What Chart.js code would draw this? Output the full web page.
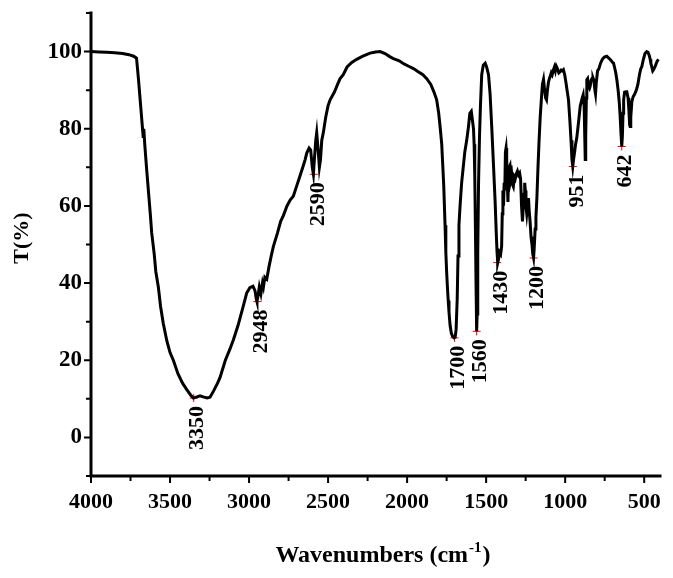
<!DOCTYPE html>
<html>
<head>
<meta charset="utf-8">
<script src="https://cdn.jsdelivr.net/npm/chart.js@4"></script>
<style>
  html, body { margin: 0; padding: 0; background: #fff; }
  canvas { display: block; }
</style>
</head>
<body>
<canvas id="ftir" width="673" height="578"></canvas>
<script>
// spectrum (wavenumber in cm-1, transmittance in %)
var wavenumber = [
  4000, 3950, 3900, 3850, 3800, 3760, 3730, 3712, 3700, 3690, 3680, 3672, 3670, 3666, 3660, 3647,
  3635, 3625, 3616, 3600, 3590, 3574, 3560, 3543, 3520, 3500, 3479, 3450, 3420, 3394, 3370, 3352,
  3330, 3310, 3290, 3265, 3247, 3225, 3200, 3184, 3150, 3120, 3099, 3070, 3040, 3015, 2995, 2975,
  2962, 2955, 2950, 2944, 2935, 2925, 2915, 2909, 2900, 2888, 2875, 2860, 2846, 2820, 2800, 2783,
  2760, 2740, 2720, 2700, 2680, 2660, 2645, 2635, 2620, 2610, 2600, 2593, 2585, 2578, 2572, 2562,
  2555, 2548, 2540, 2530, 2515, 2500, 2487, 2460, 2440, 2424, 2404, 2380, 2350, 2319, 2280, 2234,
  2200, 2171, 2140, 2110, 2087, 2050, 2020, 1990, 1960, 1930, 1900, 1876, 1850, 1830, 1813, 1800,
  1790, 1781, 1775, 1768, 1760, 1755, 1750, 1745, 1740, 1735, 1728, 1720, 1712, 1703, 1696, 1690,
  1683, 1678, 1672, 1665, 1655, 1645, 1635, 1623, 1612, 1603, 1594, 1586, 1580, 1576, 1572, 1568,
  1564, 1560, 1557, 1553, 1548, 1542, 1536, 1528, 1518, 1506, 1497, 1485, 1475, 1464, 1454, 1443,
  1436, 1431, 1428, 1425, 1420, 1415, 1408, 1402, 1398, 1394, 1390, 1386, 1382, 1378,
  1374, 1370, 1366, 1362, 1358, 1354, 1349, 1343, 1338, 1333, 1328, 1322, 1316, 1310, 1302, 1295,
  1288, 1282, 1276, 1270, 1266, 1260, 1256, 1252, 1248, 1243, 1238, 1232, 1228, 1222, 1216, 1210,
  1205, 1200, 1196, 1190, 1185, 1179, 1172, 1165, 1158, 1150, 1144, 1137, 1130, 1124, 1118, 1112,
  1106, 1100, 1095, 1088, 1082, 1074, 1068, 1062, 1056, 1048, 1040, 1032, 1025, 1018, 1011, 1003,
  995, 988, 979, 970, 963, 957, 952, 947, 940, 934, 927, 920, 912, 905, 898, 892,
  886, 880, 876, 873, 870, 866, 863, 858, 852, 846, 842, 836, 830, 824, 818, 812,
  808, 803, 795, 787, 776, 765, 752, 737, 724, 712, 700, 694, 688, 680, 673, 665,
  658, 652, 647, 642, 638, 634, 630, 624, 616, 610, 602, 597, 592, 589, 585, 578,
  570, 560, 550, 540, 530, 522, 515, 505, 495, 484, 476, 468, 462, 458, 452, 446,
  441, 432, 425, 418, 410
];
var transmittance = [
  100, 99.9, 99.8, 99.7, 99.5, 99.2, 98.8, 98.3, 93, 88, 83, 79, 78, 80, 76, 69,
  63, 58, 53, 47.5, 43, 39, 34, 29.6, 25, 22, 20, 16.5, 14, 12.4, 11, 10.2,
  10.5, 10.8, 10.5, 10.2, 10.4, 12, 14, 15.5, 20, 23, 25.3, 29, 33.5, 37.4, 38.8, 39.2,
  38, 36, 35.2, 36.5, 39, 37.2, 40, 39, 41.5, 41, 44, 47, 49.5, 53, 56, 57.5,
  60, 61.5, 62.5, 65, 67.5, 70, 72, 73.7, 75, 74.5, 70, 68.2, 73, 77, 79, 74,
  70, 72, 77, 79, 83, 86, 87.5, 89.5, 91.5, 93, 94, 96, 97.2, 98, 98.8, 99.6,
  99.9, 100, 99.5, 98.7, 98.2, 97.6, 96.8, 96.2, 95.6, 94.8, 94, 93, 91.5, 89.5, 87.5, 84,
  80, 76, 71, 65, 55, 48, 43, 39, 35.5, 32.5, 29, 27, 26.2, 25.8, 26, 28,
  36, 47, 55, 60, 66, 70, 74, 77, 80.5, 84, 84.5, 82, 80, 76, 68, 55,
  40, 27.5, 32, 48, 66, 78, 86, 94, 96.5, 97, 96, 94, 89, 80, 71, 61,
  53, 48, 46, 45.3, 46.5, 48, 47.5, 49.5, 58, 64, 60, 66, 64, 74,
  75, 72, 66, 61, 69, 70, 70.5, 67, 68, 65.5, 65, 67.5, 67, 68.2, 69, 68,
  68.5, 67, 60, 56, 59, 63, 66, 64, 60, 58, 60, 62, 59, 56, 52, 50,
  47.5, 46.5, 49, 54, 57, 62, 70, 77, 83, 88, 91.5, 92.8, 90, 88, 87.5, 90,
  92, 93, 93.5, 94.5, 94, 95.3, 96, 95, 96.2, 95.5, 94.5, 94.8, 95.2, 95, 95.3, 94,
  92, 90, 87.5, 82, 77, 72, 70.2, 72, 74, 76, 77.5, 80, 83, 85.8, 87, 88,
  88.8, 86, 78, 72, 78, 88, 92.7, 93, 91, 90.5, 91, 92.5, 93, 93.2, 92.5, 90,
  89, 92, 95, 95.5, 97, 98, 98.6, 98.8, 98.3, 97.8, 97.2, 97, 96, 94.5, 92.7, 90,
  87, 83.2, 79, 75.4, 78, 84, 87.5, 89.5, 89.6, 89.6, 88, 85, 81, 80.6, 83, 87,
  88.3, 89, 90, 91.5, 94, 95.5, 96.1, 98, 99.5, 100, 99.8, 99, 98, 97, 96, 95,
  95.3, 96, 96.8, 97.5, 98
];

// marked peaks
var peakWavenumber = [3350, 2948, 2590, 1700, 1560, 1430, 1200, 951, 642];
var peakTransmittance = [10.2, 35.2, 68.2, 25.8, 27.5, 45.3, 46.5, 70.2, 75.4];

// axis ticks
var xTicks = [4000, 3500, 3000, 2500, 2000, 1500, 1000, 500];
var xMinorTicks = [3750, 3250, 2750, 2250, 1750, 1250, 750];
var yTicks = [0, 20, 40, 60, 80, 100];
var yMinorTicks = [-10, 10, 30, 50, 70, 90, 110];

var serif = '"Liberation Serif", "Times New Roman", serif';

var spectrum = wavenumber.map(function (w, i) { return { x: w, y: transmittance[i] }; });
var peaks = peakWavenumber.map(function (w, i) { return { x: w, y: peakTransmittance[i] }; });

// axis lines + tick marks, peak labels, axis titles
var decorations = {
    id: 'decorations',
    afterDraw: function (chart) {
        var ctx = chart.ctx;
        var xs = chart.scales.x, ys = chart.scales.y;
        var area = chart.chartArea;
        ctx.save();
        ctx.strokeStyle = '#000';
        ctx.lineCap = 'square';

        // axis lines
        ctx.lineWidth = 3;
        ctx.beginPath();
        ctx.moveTo(area.left, area.top);
        ctx.lineTo(area.left, area.bottom);
        ctx.lineTo(area.right, area.bottom);
        ctx.stroke();

        // ticks
        ctx.lineWidth = 2;
        ctx.lineCap = 'butt';
        ctx.beginPath();
        xTicks.forEach(function (v) {
            var px = xs.getPixelForValue(v);
            ctx.moveTo(px, area.bottom); ctx.lineTo(px, area.bottom + 7);
        });
        xMinorTicks.forEach(function (v) {
            var px = xs.getPixelForValue(v);
            ctx.moveTo(px, area.bottom); ctx.lineTo(px, area.bottom + 5);
        });
        yTicks.forEach(function (v) {
            var py = ys.getPixelForValue(v);
            ctx.moveTo(area.left, py); ctx.lineTo(area.left - 7, py);
        });
        yMinorTicks.forEach(function (v) {
            var py = ys.getPixelForValue(v);
            ctx.moveTo(area.left, py); ctx.lineTo(area.left - 5, py);
        });
        ctx.stroke();

        // peak labels, rotated
        ctx.fillStyle = '#000';
        ctx.font = 'bold 22px ' + serif;
        ctx.textAlign = 'right';
        ctx.textBaseline = 'middle';
        peakWavenumber.forEach(function (w, i) {
            var px = xs.getPixelForValue(w);
            var py = ys.getPixelForValue(peakTransmittance[i]);
            ctx.save();
            ctx.translate(px + 4, py + 8);
            ctx.rotate(-Math.PI / 2);
            ctx.fillText(String(w), 0, 0);
            ctx.restore();
        });

        // y title
        ctx.save();
        ctx.translate(22, 238);
        ctx.rotate(-Math.PI / 2);
        ctx.textAlign = 'center';
        ctx.font = 'bold 22px ' + serif;
        ctx.fillText('T(%)', 0, 0);
        ctx.restore();

        // x title with superscript
        var big = 'bold 24px ' + serif, small = 'bold 15px ' + serif;
        var t1 = 'Wavenumbers (cm', t2 = '-1', t3 = ')';
        ctx.textAlign = 'left';
        ctx.textBaseline = 'alphabetic';
        ctx.font = big;
        var w1 = ctx.measureText(t1).width, w3 = ctx.measureText(t3).width;
        ctx.font = small;
        var w2 = ctx.measureText(t2).width;
        var x0 = 382 - (w1 + w2 + w3) / 2, base = 562;
        ctx.font = big;
        ctx.fillText(t1, x0, base);
        ctx.font = small;
        ctx.fillText(t2, x0 + w1 + 1, base - 10);
        ctx.font = big;
        ctx.fillText(t3, x0 + w1 + w2 + 2, base);
        ctx.restore();
    }
};

var ctx = document.getElementById('ftir').getContext('2d');
var ftirChart = new Chart(ctx, {
    type: 'line',
    data: {
        datasets: [{
            label: 'FTIR',
            data: spectrum,
            borderColor: '#000',
            borderWidth: 3,
            pointRadius: 0,
            tension: 0,
            fill: false
        }, {
            label: 'Peaks',
            data: peaks,
            showLine: false,
            pointStyle: 'cross',
            pointRadius: 4,
            borderColor: 'rgb(255, 0, 0)',
            borderWidth: 1
        }]
    },
    options: {
        responsive: false,
        animation: false,
        devicePixelRatio: 1,
        layout: { padding: { top: 13, right: 13, left: 0, bottom: 0 } },
        plugins: {
            legend: { display: false },
            tooltip: { enabled: false }
        },
        scales: {
            x: {
                type: 'linear',
                reverse: true,
                min: 400,
                max: 4000,
                grid: { display: false, drawTicks: false },
                border: { display: false },
                afterBuildTicks: function (scale) {
                    scale.ticks = xTicks.map(function (v) { return { value: v }; });
                },
                afterFit: function (scale) {
                    scale.height = 102;
                    scale.paddingLeft = 0;
                    scale.paddingRight = 0;
                },
                ticks: {
                    autoSkip: false,
                    maxRotation: 0,
                    padding: 13,
                    color: '#000',
                    font: { family: serif, size: 22, weight: 'bold' },
                    callback: function (v) { return String(v); }
                }
            },
            y: {
                min: -10,
                max: 110,
                grid: { display: false, drawTicks: false },
                border: { display: false },
                afterBuildTicks: function (scale) {
                    scale.ticks = yTicks.map(function (v) { return { value: v }; });
                },
                afterFit: function (scale) {
                    scale.width = 91;
                    scale.paddingTop = 0;
                    scale.paddingBottom = 0;
                },
                ticks: {
                    padding: 9,
                    color: '#000',
                    font: { family: serif, size: 23, weight: 'bold' },
                    callback: function (v) { return String(v); }
                }
            }
        }
    },
    plugins: [decorations]
});
</script>
</body>
</html>
